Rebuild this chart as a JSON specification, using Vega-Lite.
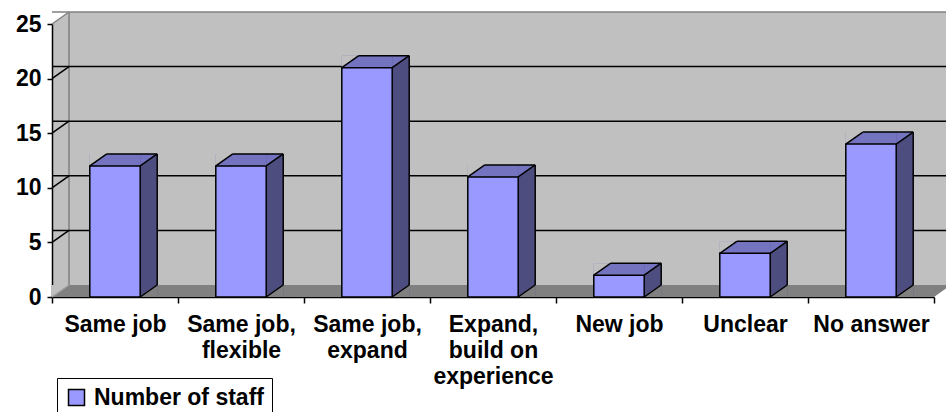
{
  "$schema": "https://vega.github.io/schema/vega-lite/v6.json",
  "width": 882,
  "height": 273,
  "autosize": {"type": "none"},
  "padding": {"left": 52, "top": 24, "right": 12, "bottom": 115},
  "background": "white",
  "config": {
    "view": {"fill": "#C0C0C0", "stroke": null},
    "font": "Liberation Sans",
    "axis": {"grid": false, "zindex": 1}
  },
  "data": {"values": [
    {"cat": "Same job", "value": 12, "series": "Number of staff"},
    {"cat": "Same job, flexible", "value": 12, "series": "Number of staff"},
    {"cat": "Same job, expand", "value": 21, "series": "Number of staff"},
    {"cat": "Expand, build on experience", "value": 11, "series": "Number of staff"},
    {"cat": "New job", "value": 2, "series": "Number of staff"},
    {"cat": "Unclear", "value": 4, "series": "Number of staff"},
    {"cat": "No answer", "value": 14, "series": "Number of staff"}
  ]},
  "resolve": {"scale": {"x": "shared", "y": "shared"}},
  "layer": [
    {
      "mark": {"type": "rect", "fill": "#C0C0C0", "xOffset": 17, "yOffset": -12, "y2Offset": -12},
      "encoding": {
        "x": {"field": "cat", "type": "nominal", "sort": null, "title": null,
              "scale": {"type": "band", "paddingInner": 0, "paddingOuter": 0}},
        "y": {"datum": 25, "type": "quantitative", "scale": {"domain": [0, 25], "nice": false}},
        "y2": {"datum": 0}
      }
    },
    {
      "mark": {"type": "rect", "fill": "#808080", "yOffset": -12},
      "encoding": {
        "x": {"field": "cat", "type": "nominal", "sort": null, "title": null},
        "y": {"datum": 0, "type": "quantitative"},
        "y2": {"datum": 0}
      }
    },
    {
      "data": {"values": [{}]},
      "mark": {"type": "point", "shape": "M0,0L2,-1.4118L2,0Z", "size": 289, "filled": true, "opacity": 1, "strokeWidth": 0, "fill": "#C0C0C0"},
      "encoding": {
        "x": {"datum": "Same job", "type": "nominal", "bandPosition": 0},
        "y": {"datum": 25, "type": "quantitative"}
      }
    },
    {
      "data": {"values": [{}]},
      "mark": {"type": "point", "shape": "M0,0L0,-1.4118L2,-1.4118Z", "size": 289, "filled": true, "opacity": 1, "strokeWidth": 0, "fill": "#C0C0C0"},
      "encoding": {
        "x": {"datum": "Same job", "type": "nominal", "bandPosition": 0},
        "y": {"datum": 0, "type": "quantitative"}
      }
    },
    {
      "data": {"values": [{}]},
      "mark": {"type": "point", "shape": "M0,0L0,-1.4118L2,-1.4118Z", "size": 289, "filled": true, "opacity": 1, "strokeWidth": 0, "fill": "#808080"},
      "encoding": {
        "x": {"datum": "No answer", "type": "nominal", "bandPosition": 1},
        "y": {"datum": 0, "type": "quantitative"}
      }
    },
    {
      "data": {"values": [{"v": 25}]},
      "mark": {"type": "rule", "stroke": "#808080", "strokeWidth": 1.5, "xOffset": 17, "x2Offset": 17, "yOffset": -12},
      "encoding": {"y": {"field": "v", "type": "quantitative"}}
    },
    {
      "data": {"values": [{}]},
      "mark": {"type": "rule", "stroke": "#808080", "strokeWidth": 1.5, "xOffset": 17, "yOffset": -12, "y2Offset": -12},
      "encoding": {
        "x": {"datum": "Same job", "type": "nominal", "bandPosition": 0},
        "y": {"datum": 25, "type": "quantitative"},
        "y2": {"datum": 0}
      }
    },
    {
      "data": {"values": [{"v": 25}]},
      "mark": {"type": "rule", "stroke": "#808080", "strokeWidth": 1.5, "x2Offset": 17, "y2Offset": -12},
      "encoding": {
        "x": {"datum": "Same job", "type": "nominal", "bandPosition": 0},
        "x2": {"datum": "Same job", "bandPosition": 0},
        "y": {"field": "v", "type": "quantitative"},
        "y2": {"field": "v"}
      }
    },
    {
      "data": {"values": [{"v": 0}]},
      "mark": {"type": "rule", "stroke": "#A0A0A0", "strokeWidth": 1.5, "x2Offset": 17, "y2Offset": -12},
      "encoding": {
        "x": {"datum": "Same job", "type": "nominal", "bandPosition": 0},
        "x2": {"datum": "Same job", "bandPosition": 0},
        "y": {"field": "v", "type": "quantitative"},
        "y2": {"field": "v"}
      }
    },
    {
      "data": {"values": [{"v": 5}, {"v": 10}, {"v": 15}, {"v": 20}]},
      "mark": {"type": "rule", "stroke": "black", "strokeWidth": 1.5, "xOffset": 17, "x2Offset": 17, "yOffset": -12},
      "encoding": {"y": {"field": "v", "type": "quantitative"}}
    },
    {
      "data": {"values": [{"v": 5}, {"v": 10}, {"v": 15}, {"v": 20}]},
      "mark": {"type": "rule", "stroke": "black", "strokeWidth": 1.5, "x2Offset": 17, "y2Offset": -12},
      "encoding": {
        "x": {"datum": "Same job", "type": "nominal", "bandPosition": 0},
        "x2": {"datum": "Same job", "bandPosition": 0},
        "y": {"field": "v", "type": "quantitative"},
        "y2": {"field": "v"}
      }
    },
    {
      "mark": {"type": "bar", "fill": "#7373BF", "width": 67.4, "xOffset": 8.5, "yOffset": -12},
      "encoding": {
        "x": {"field": "cat", "type": "nominal", "sort": null},
        "y": {"field": "value", "type": "quantitative"},
        "y2": {"field": "value"}
      }
    },
    {
      "mark": {"type": "bar", "fill": "#4D4D80", "width": 17, "xOffset": 33.7, "yOffset": -12},
      "encoding": {
        "x": {"field": "cat", "type": "nominal", "sort": null},
        "y": {"field": "value", "type": "quantitative"},
        "y2": {"datum": 0}
      }
    },
    {
      "mark": {"type": "point", "shape": "M0,0L0,-1.4118L2,-1.4118Z", "size": 289, "filled": true, "opacity": 1, "strokeWidth": 0, "fill": "#7373BF", "xOffset": 25.2},
      "encoding": {
        "x": {"field": "cat", "type": "nominal", "sort": null, "bandPosition": 0.5},
        "y": {"field": "value", "type": "quantitative"}
      }
    },
    {
      "mark": {"type": "point", "shape": "M0,0L0,-1.4118L2,-1.4118Z", "size": 289, "filled": true, "opacity": 1, "strokeWidth": 0, "fill": "#C0C0C0", "xOffset": -25.2},
      "encoding": {
        "x": {"field": "cat", "type": "nominal", "sort": null, "bandPosition": 0.5},
        "y": {"field": "value", "type": "quantitative"}
      }
    },
    {
      "mark": {"type": "point", "shape": "M0,0L2,0L2,-1.4118Z", "size": 289, "filled": true, "opacity": 1, "strokeWidth": 0, "fill": "#808080", "xOffset": 25.2},
      "encoding": {
        "x": {"field": "cat", "type": "nominal", "sort": null, "bandPosition": 0.5},
        "y": {"datum": 0, "type": "quantitative"}
      }
    },
    {
      "mark": {"type": "bar", "width": {"band": 0.4}, "stroke": "black", "strokeWidth": 1.5},
      "encoding": {
        "x": {"field": "cat", "type": "nominal", "sort": null, "title": null,
              "axis": {
                "domainColor": "black", "domainWidth": 1.5, "tickColor": "black", "tickWidth": 1.5, "tickSize": 6,
                "tickBand": "extent", "labelAngle": 0, "labelAlign": "center", "labelFontSize": 23, "labelFontWeight": "bold", "labelColor": "black",
                "labelPadding": 21, "labelLineHeight": 26, "labelLimit": 0,
                "labelExpr": "datum.value == 'Same job, flexible' ? ['Same job,', 'flexible'] : datum.value == 'Same job, expand' ? ['Same job,', 'expand'] : datum.value == 'Expand, build on experience' ? ['Expand,', 'build on', 'experience'] : datum.label"
              }},
        "y": {"field": "value", "type": "quantitative", "title": null,
              "axis": {
                "values": [0, 5, 10, 15, 20, 25], "domainColor": "black", "domainWidth": 1.5, "tickColor": "black", "tickWidth": 1.5, "tickSize": 5,
                "labelFontSize": 23, "labelFontWeight": "bold", "labelColor": "black", "labelPadding": 6
              }},
        "color": {"field": "series", "type": "nominal", "scale": {"range": ["#9999FF"]},
                  "legend": {"orient": "none", "legendX": 5, "legendY": 354, "title": null, "symbolType": "square", "symbolSize": 256,
                             "symbolStrokeColor": "black", "symbolStrokeWidth": 1.5, "labelFontSize": 23, "labelFontWeight": "bold",
                             "labelColor": "black", "labelLimit": 400, "strokeColor": "black", "padding": 8, "labelOffset": 6}}
      }
    },
    {
      "mark": {"type": "rule", "stroke": "black", "strokeWidth": 1.5, "xOffset": -25.2, "x2Offset": -8.2, "y2Offset": -12},
      "encoding": {
        "x": {"field": "cat", "type": "nominal", "sort": null, "bandPosition": 0.5},
        "x2": {"field": "cat", "bandPosition": 0.5},
        "y": {"field": "value", "type": "quantitative"},
        "y2": {"field": "value"}
      }
    },
    {
      "mark": {"type": "rule", "stroke": "black", "strokeWidth": 1.5, "xOffset": 25.2, "x2Offset": 42.2, "y2Offset": -12},
      "encoding": {
        "x": {"field": "cat", "type": "nominal", "sort": null, "bandPosition": 0.5},
        "x2": {"field": "cat", "bandPosition": 0.5},
        "y": {"field": "value", "type": "quantitative"},
        "y2": {"field": "value"}
      }
    },
    {
      "mark": {"type": "rule", "stroke": "black", "strokeWidth": 1.5, "xOffset": -8.2, "x2Offset": 42.2, "yOffset": -12, "y2Offset": -12},
      "encoding": {
        "x": {"field": "cat", "type": "nominal", "sort": null, "bandPosition": 0.5},
        "x2": {"field": "cat", "bandPosition": 0.5},
        "y": {"field": "value", "type": "quantitative"},
        "y2": {"field": "value"}
      }
    },
    {
      "mark": {"type": "rule", "stroke": "black", "strokeWidth": 1.5, "xOffset": 42.2, "x2Offset": 42.2, "yOffset": -12, "y2Offset": -12},
      "encoding": {
        "x": {"field": "cat", "type": "nominal", "sort": null, "bandPosition": 0.5},
        "x2": {"field": "cat", "bandPosition": 0.5},
        "y": {"field": "value", "type": "quantitative"},
        "y2": {"datum": 0}
      }
    },
    {
      "mark": {"type": "rule", "stroke": "black", "strokeWidth": 1.5, "xOffset": 25.2, "x2Offset": 42.2, "y2Offset": -12},
      "encoding": {
        "x": {"field": "cat", "type": "nominal", "sort": null, "bandPosition": 0.5},
        "x2": {"field": "cat", "bandPosition": 0.5},
        "y": {"datum": 0, "type": "quantitative"},
        "y2": {"datum": 0}
      }
    }
  ]
}
